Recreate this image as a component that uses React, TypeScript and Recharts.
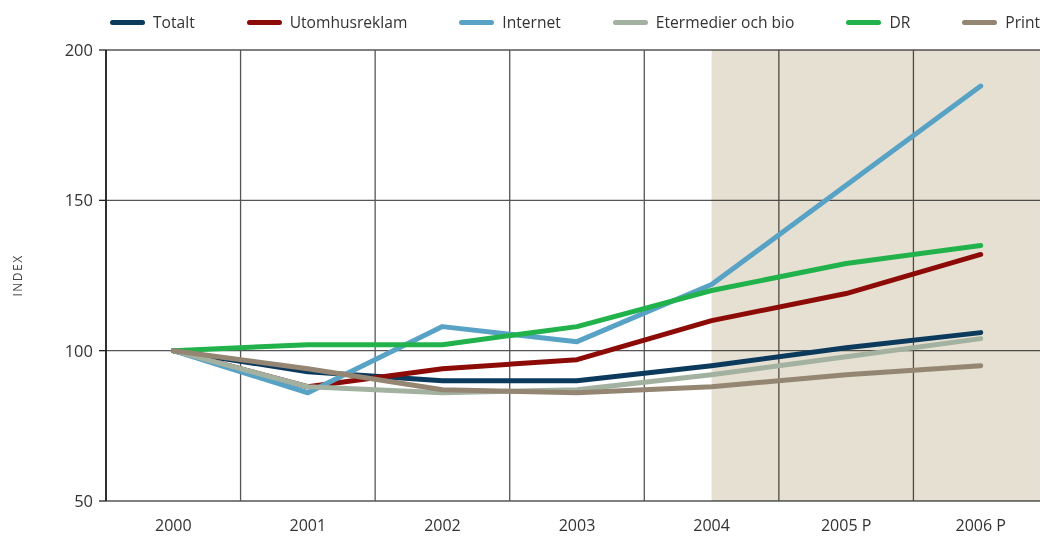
import React from "react";
import {
  LineChart,
  Line,
  XAxis,
  YAxis,
  CartesianGrid,
  ReferenceArea,
} from "recharts";

const years = ["2000", "2001", "2002", "2003", "2004", "2005 P", "2006 P"];

const totalt = [100, 93, 90, 90, 95, 101, 106];
const utomhusreklam = [100, 88, 94, 97, 110, 119, 132];
const internet = [100, 86, 108, 103, 122, 155, 188];
const etermedier = [100, 88, 86, 87, 92, 98, 104];
const dr = [100, 102, 102, 108, 120, 129, 135];
const print = [100, 94, 87, 86, 88, 92, 95];

const yTicks = [50, 100, 150, 200];
// band edges on the helper axis (one unit per year)
const bandEdges = [0, 1, 2, 3, 4, 5, 6, 7];
const forecastFrom = 4.5; // middle of the 2004 band
const forecastTo = 7;

const series = [
  { key: "totalt", name: "Totalt", color: "#0b3a5c", values: totalt },
  { key: "utomhus", name: "Utomhusreklam", color: "#8c0b07", values: utomhusreklam },
  { key: "internet", name: "Internet", color: "#58a2c5", values: internet },
  { key: "eter", name: "Etermedier och bio", color: "#a3b1a1", values: etermedier },
  { key: "dr", name: "DR", color: "#22b24c", values: dr },
  { key: "print", name: "Print", color: "#948672", values: print },
];

const data = years.map((year, i) => {
  const row: any = { year };
  series.forEach((s) => {
    row[s.key] = s.values[i];
  });
  return row;
});

const FONT = "'Open Sans', sans-serif";

export default function App() {
  return (
    <div style={{ position: "relative", width: 1040, height: 531, fontFamily: FONT }}>
      {/* legend kept outside the svg */}
      <div
        style={{
          position: "absolute",
          top: 4,
          left: 102,
          display: "flex",
          gap: 52,
          alignItems: "center",
          fontSize: 15.6,
          color: "#333",
          lineHeight: "20px",
          zIndex: 2,
        }}
      >
        {series.map((s) => (
          <div key={s.key} style={{ display: "flex", alignItems: "center", gap: 8 }}>
            <span
              style={{
                width: 35,
                height: 5,
                borderRadius: 3,
                background: s.color,
                display: "inline-block",
              }}
            />
            {s.name}
          </div>
        ))}
      </div>

      <LineChart
        width={1040}
        height={531}
        data={data}
        margin={{ top: 42, right: 0, bottom: 0, left: 0 }}
      >
        <ReferenceArea
          xAxisId="edges"
          x1={forecastFrom}
          x2={forecastTo}
          y1={50}
          y2={200}
          fill="#e5e0d1"
          fillOpacity={1}
          stroke="none"
          style={{ mixBlendMode: "multiply" }}
        />
        <CartesianGrid xAxisId="edges" stroke="#555" strokeWidth={1.3} />
        <XAxis
          xAxisId="edges"
          dataKey="edge"
          type="number"
          domain={[0, 7]}
          allowDataOverflow
          ticks={bandEdges}
          height={0}
          tick={() => <g />}
          tickSize={7}
          tickLine={{ stroke: "#222", strokeWidth: 1.3 }}
          axisLine={{ stroke: "#111", strokeWidth: 1.5 }}
        />
        <XAxis
          xAxisId="cat"
          dataKey="year"
          scale="band"
          height={38}
          axisLine={false}
          tickLine={false}
          tickSize={6}
          tickMargin={13}
          tick={{ fontSize: 16, fill: "#333", fontFamily: FONT }}
        />
        <YAxis
          domain={[50, 200]}
          ticks={yTicks}
          width={98}
          tickSize={7}
          tickMargin={6}
          tickLine={{ stroke: "#222", strokeWidth: 1.3 }}
          axisLine={{ stroke: "#111", strokeWidth: 1.5 }}
          tick={{ fontSize: 16.5, fill: "#333", fontFamily: FONT }}
          label={{
            value: "INDEX",
            angle: -90,
            position: "insideLeft",
            offset: 10,
            textAnchor: "middle",
            style: { fontSize: 12, fill: "#444", letterSpacing: 1.5, fontFamily: FONT },
          }}
        />
        {series.map((s) => (
          <Line
            key={s.key}
            xAxisId="cat"
            dataKey={s.key}
            name={s.name}
            stroke={s.color}
            strokeWidth={5}
            strokeLinecap="round"
            strokeLinejoin="round"
            dot={false}
            activeDot={false}
            isAnimationActive={false}
          />
        ))}
      </LineChart>
    </div>
  );
}
